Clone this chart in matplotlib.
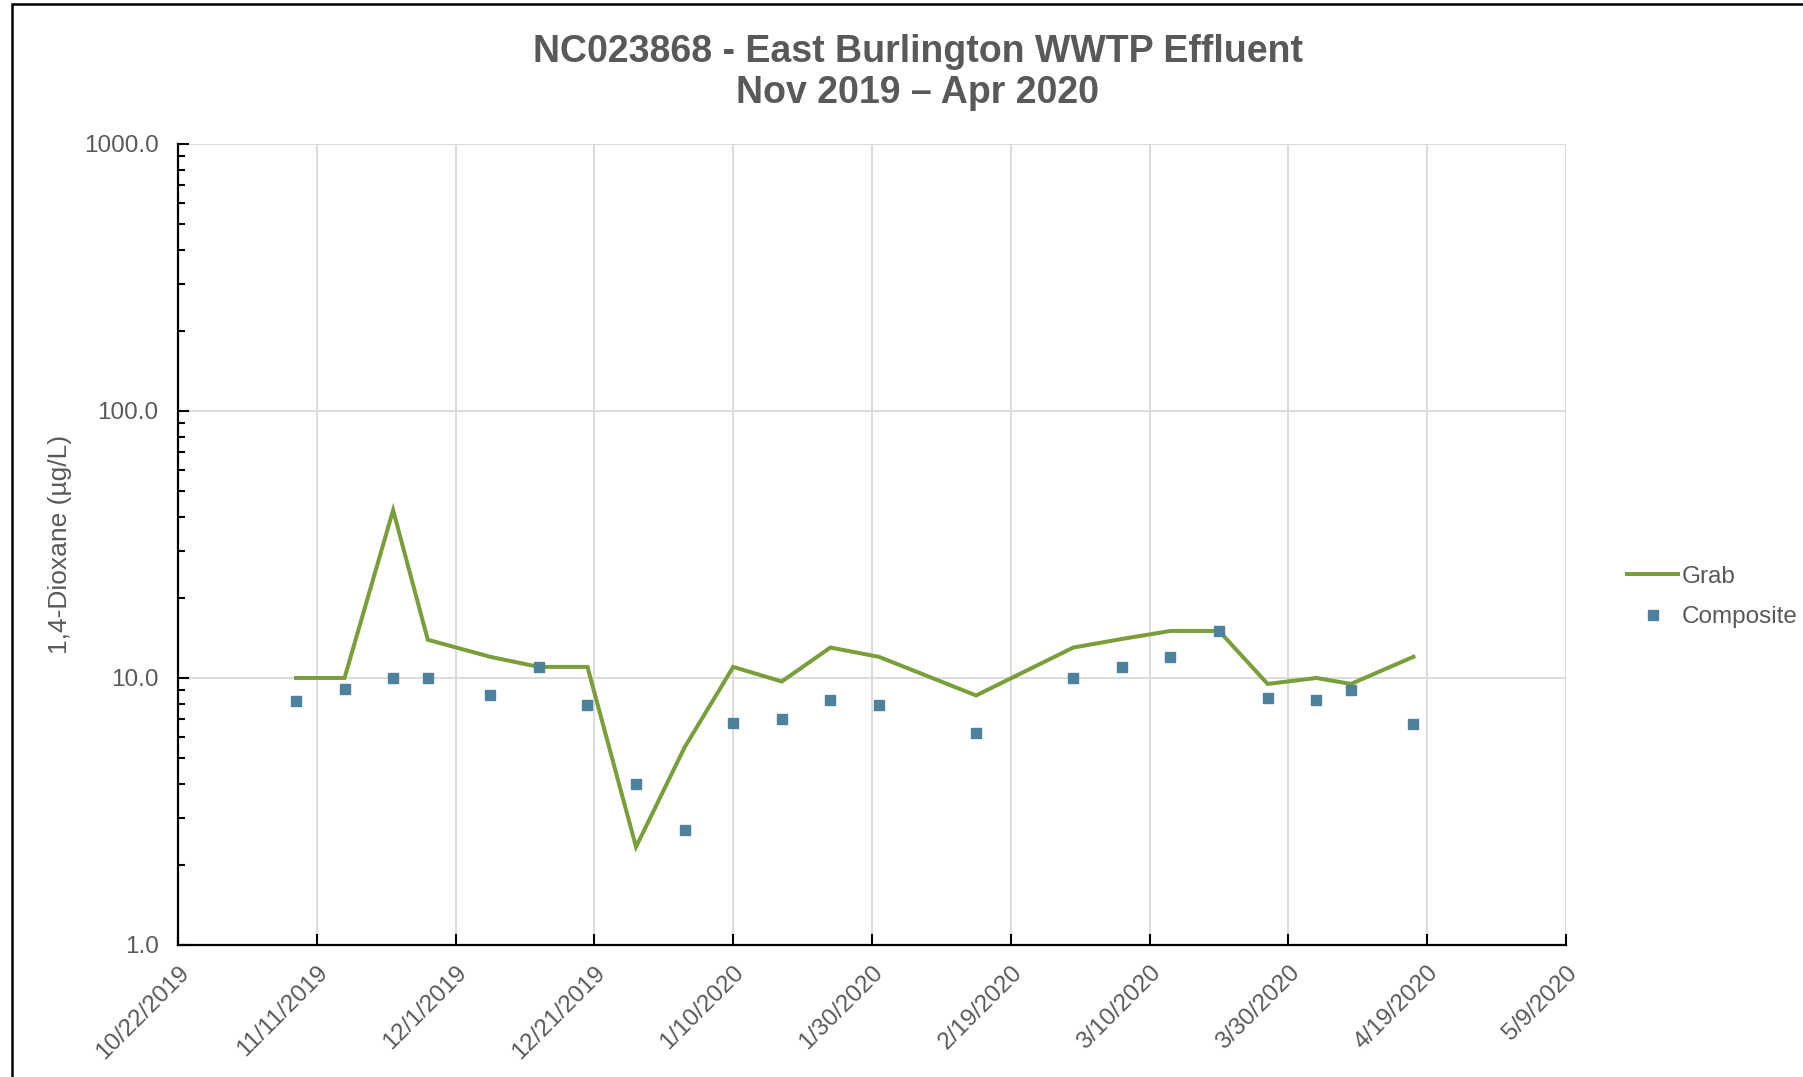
import matplotlib
matplotlib.use("Agg")
import matplotlib.pyplot as plt
import matplotlib.ticker as mticker
from matplotlib.patches import Rectangle
import pandas as pd

# values
grab_dates = ["2019-11-08", "2019-11-15", "2019-11-22", "2019-11-27", "2019-12-06",
              "2019-12-13", "2019-12-20", "2019-12-27", "2020-01-03", "2020-01-10",
              "2020-01-17", "2020-01-24", "2020-01-31", "2020-02-14", "2020-02-28",
              "2020-03-06", "2020-03-13", "2020-03-20", "2020-03-27", "2020-04-03",
              "2020-04-08", "2020-04-17"]
grab_values = [10.0, 10.0, 42.5, 13.9, 12.0, 11.0, 11.0, 2.33, 5.5, 11.0,
               9.7, 13.0, 12.0, 8.6, 13.0, 14.0, 15.0, 15.0, 9.5, 10.0, 9.5, 12.0]

composite_dates = grab_dates
composite_values = [8.2, 9.1, 10.0, 10.0, 8.6, 11.0, 7.9, 4.0, 2.7, 6.8,
                    7.0, 8.3, 7.9, 6.2, 10.0, 11.0, 12.0, 15.0, 8.4, 8.3, 9.0, 6.7]

x_tick_labels = ["10/22/2019", "11/11/2019", "12/1/2019", "12/21/2019", "1/10/2020",
                 "1/30/2020", "2/19/2020", "3/10/2020", "3/30/2020", "4/19/2020", "5/9/2020"]
y_ticks = [1, 10, 100, 1000]

title = "NC023868 - East Burlington WWTP Effluent\nNov 2019 \u2013 Apr 2020"
y_label = "1,4-Dioxane (\u00b5g/L)"

text_gray = "#595959"
grab_color = "#7a9f3a"
comp_color = "#4e819c"

plt.rcParams["font.family"] = ["Liberation Sans", "DejaVu Sans"]

fig = plt.figure(figsize=(18.03, 10.77), dpi=100)
ax = fig.add_axes([0.0987, 0.1226, 0.7699, 0.7437])

ax.plot(pd.to_datetime(grab_dates), grab_values, color=grab_color, lw=2.9,
        label="Grab", solid_joinstyle="miter")
ax.plot(pd.to_datetime(composite_dates), composite_values, ls="none", marker="s",
        ms=7.5, color=comp_color, label="Composite")

ax.set_yscale("log")
ax.set_ylim(1, 1000)
ax.yaxis.set_major_locator(mticker.FixedLocator(y_ticks))
ax.yaxis.set_major_formatter(mticker.FormatStrFormatter("%.1f"))
ax.yaxis.set_minor_locator(mticker.LogLocator(base=10, subs=range(2, 10)))
ax.yaxis.set_minor_formatter(mticker.NullFormatter())

tick_dates = pd.to_datetime(x_tick_labels, format="%m/%d/%Y")
ax.set_xlim(tick_dates[0], tick_dates[-1])
ax.set_xticks(tick_dates)
ax.set_xticklabels(x_tick_labels, rotation=45, ha="right", va="top",
                   rotation_mode="anchor")

ax.grid(True, which="major", color="#d9d9d9", lw=1.3)
ax.set_axisbelow(True)
for side in ["top", "right"]:
    ax.spines[side].set_visible(False)
for side in ["left", "bottom"]:
    ax.spines[side].set_linewidth(1.6)
    ax.spines[side].set_color("black")

ax.tick_params(axis="both", which="major", direction="in", length=8, width=1.5,
               labelsize=17.5, labelcolor=text_gray, color="black")
ax.tick_params(axis="y", which="minor", direction="in", length=5, width=1.5)
ax.tick_params(axis="y", which="major", pad=14)
ax.tick_params(axis="x", which="major", pad=12)

ax.set_ylabel(y_label, fontsize=19, color=text_gray, va="center")
ax.yaxis.set_label_coords(-0.085, 0.5)

fig.text(0.509, 0.9327, title, ha="center", va="center", fontsize=27,
         fontweight="bold", color=text_gray, linespacing=1.2)

leg = ax.legend(loc="center left", bbox_to_anchor=(0.9024, 0.4457),
                bbox_transform=fig.transFigure, frameon=False, fontsize=17.5,
                handlelength=2.1, handletextpad=0.15, labelspacing=0.75,
                borderpad=0, borderaxespad=0)
for t in leg.get_texts():
    t.set_color(text_gray)

fig.patches.append(Rectangle((12 / 1803, -0.1), 1.2, 1.1 - 4 / 1077,
                             transform=fig.transFigure, fill=False,
                             edgecolor="black", lw=1.8))

fig.savefig("out.png", dpi=100)
